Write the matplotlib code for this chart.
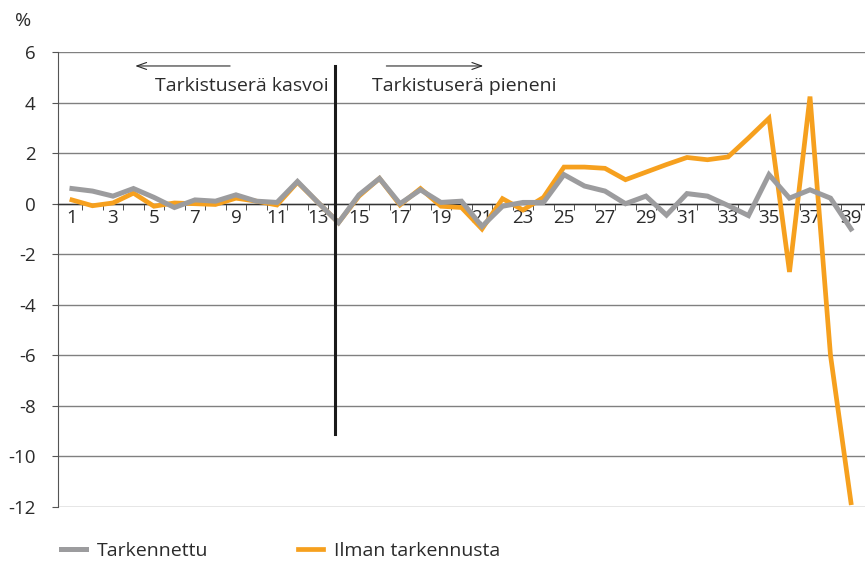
import numpy as np
import matplotlib
matplotlib.use("Agg")
import matplotlib.pyplot as plt
from matplotlib.ticker import FixedLocator

# ── data
kuukausi = list(range(1, 40))
tarkennettu = [0.6, 0.5, 0.3, 0.6, 0.25, -0.15, 0.15, 0.1, 0.35, 0.1,
               0.05, 0.88, 0.05, -0.75, 0.35, 1.0, 0.0, 0.55, 0.05, 0.1,
               -0.9, -0.1, 0.05, 0.05, 1.15, 0.7, 0.5, 0.0, 0.3, -0.45,
               0.4, 0.3, -0.07, -0.47, 1.15, 0.22, 0.55, 0.22, -1.0]
ilman_tarkennusta = [0.15, -0.08, 0.03, 0.42, -0.1, 0.03, 0.0, -0.03, 0.22, 0.1,
                     -0.05, 0.85, 0.05, -0.75, 0.3, 1.0, -0.05, 0.6, -0.1, -0.15,
                     -1.0, 0.2, -0.25, 0.25, 1.45, 1.45, 1.4, 0.95, 1.25, 1.55,
                     1.83, 1.74, 1.85, 2.6, 3.38, -2.7, 4.24, -6.0, -11.83]
y_ticks = [-12, -10, -8, -6, -4, -2, 0, 2, 4, 6]
x_labels = list(range(1, 40, 2))
raja = 13.85  # tarkistuserän muutoskohta

GRAY = '#9c9c9e'
ORANGE = '#f6a01e'
TEXT = '#2b2b2b'
GRID = '#808080'

plt.rcParams['font.family'] = ['Open Sans', 'DejaVu Sans']

fig = plt.figure(figsize=(8.65, 5.63), dpi=100)
ax = fig.add_axes([0.067, 0.0995, 0.933, 0.808])

ax.plot(kuukausi, ilman_tarkennusta, color=ORANGE, lw=3.4, solid_joinstyle='miter',
        label='Ilman tarkennusta', zorder=3)
ax.plot(kuukausi, tarkennettu, color=GRAY, lw=3.6, solid_joinstyle='miter',
        label='Tarkennettu', zorder=4)

ax.set_ylim(-12, 6)
ax.set_xlim(1 - 14 / 20.5, 1 + 793 / 20.5)
ax.set_yticks(y_ticks)
ax.set_yticklabels([str(v) for v in y_ticks], fontsize=13.5, color=TEXT)
ax.yaxis.grid(True, color=GRID, lw=1.0)
ax.set_axisbelow(True)

ax.spines['top'].set_visible(False)
ax.spines['right'].set_visible(False)
ax.spines['left'].set_color('#555555')
ax.spines['bottom'].set_position(('data', 0))
ax.spines['bottom'].set_color('#333333')
ax.spines['bottom'].set_linewidth(1.0)

ax.xaxis.set_major_locator(FixedLocator(x_labels))
ax.set_xticklabels([str(v) for v in x_labels], fontsize=13.5, color=TEXT)
ax.xaxis.set_minor_locator(FixedLocator([k + 0.5 for k in kuukausi]))
ax.tick_params(axis='x', which='major', length=0, pad=4)
ax.tick_params(axis='x', which='minor', length=4, color='#333333')
ax.tick_params(axis='y', length=4, color='#555555', pad=12)

# pystyviiva ja selitteet
ax.plot([raja, raja], [-9.1, 5.45], color='#1a1a1a', lw=2.2, zorder=5)
ax.text(13.5, 4.65, 'Tarkistuserä kasvoi', ha='right', va='center',
        fontsize=14, color=TEXT)
ax.text(15.65, 4.65, 'Tarkistuserä pieneni', ha='left', va='center',
        fontsize=14, color=TEXT)
ax.annotate('', xy=(3.95, 5.45), xytext=(8.85, 5.45),
            arrowprops=dict(arrowstyle='->,head_length=0.7,head_width=0.25',
                            color=TEXT, lw=0.8))
ax.annotate('', xy=(21.2, 5.45), xytext=(16.2, 5.45),
            arrowprops=dict(arrowstyle='->,head_length=0.7,head_width=0.25',
                            color=TEXT, lw=0.8))

fig.text(0.017, 0.962, '%', fontsize=14, color=TEXT, va='center')

handles, labels = ax.get_legend_handles_labels()
fig.legend(handles[::-1], labels[::-1], loc='lower left',
           bbox_to_anchor=(0.05, -0.025), ncol=2, frameon=False,
           fontsize=14, handlelength=1.3, handletextpad=0.55,
           columnspacing=4.6, labelcolor=TEXT)

fig.savefig('out.png', dpi=100)
